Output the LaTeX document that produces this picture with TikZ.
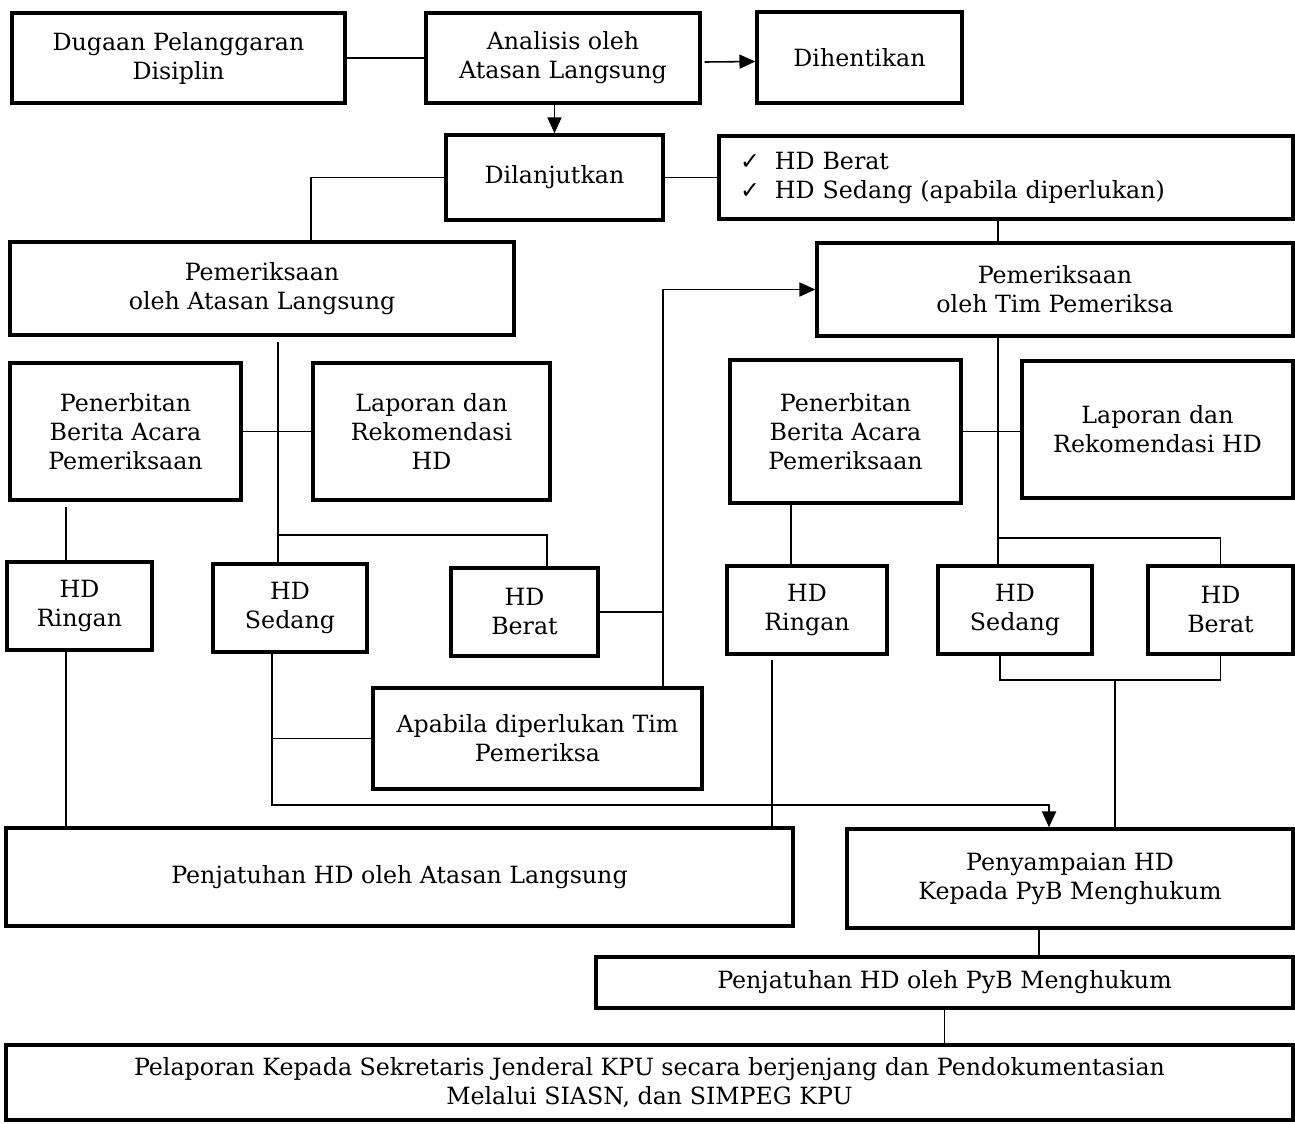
\documentclass[tikz,border=0pt]{standalone}
\usepackage{fontspec}
\setmainfont{DejaVu Serif}
\newfontfamily\cekfont{DejaVu Sans}
\usetikzlibrary{arrows.meta}

\begin{document}
\begin{tikzpicture}[x=0.02cm, y=-0.02cm,
		box/.style={draw, line width=2pt, align=center, inner sep=2pt, font=\fontsize{13.5}{16.5}\selectfont},
		garis/.style={line width=0.9pt},
		panah/.style={garis, -{Triangle[length=9pt, width=8pt]}}]
		\useasboundingbox[fill=white] (0,0) rectangle (1295,1123);

		\node[box, minimum width=6.66cm, minimum height=1.80cm] (dugaan) at (178.5,58) {Dugaan Pelanggaran\\Disiplin};
		\node[box, minimum width=5.48cm, minimum height=1.80cm] (analisis) at (563,58) {Analisis oleh\\Atasan Langsung};
		\node[box, minimum width=4.10cm, minimum height=1.82cm] (henti) at (859.5,57.5) {Dihentikan};
		\node[box, minimum width=4.34cm, minimum height=1.70cm] (lanjut) at (554.5,177.5) {Dilanjutkan};
		\node[box, align=left, text width=10.64cm, inner xsep=0.42cm, minimum height=1.66cm] (ceklis) at (1006,177.5)
			{{\cekfont ✓}\hspace{0.3cm}HD Berat\\{\cekfont ✓}\hspace{0.3cm}HD Sedang (apabila diperlukan)};

		\node[box, minimum width=10.08cm, minimum height=1.86cm] (periksaAL) at (262,288.5) {Pemeriksaan\\oleh Atasan Langsung};
		\node[box, minimum width=9.52cm, minimum height=1.86cm] (periksaTP) at (1055,289.5) {Pemeriksaan\\oleh Tim Pemeriksa};

		\node[box, minimum width=4.62cm, minimum height=2.74cm] (baL) at (125.5,431.5) {Penerbitan\\Berita Acara\\Pemeriksaan};
		\node[box, minimum width=4.74cm, minimum height=2.74cm] (lapL) at (431.5,431.5) {Laporan dan\\Rekomendasi\\HD};
		\node[box, minimum width=4.62cm, minimum height=2.86cm] (baR) at (845.5,431.5) {Penerbitan\\Berita Acara\\Pemeriksaan};
		\node[box, minimum width=5.42cm, minimum height=2.74cm] (lapR) at (1157.5,429.5) {Laporan dan\\Rekomendasi HD};

		\node[box, minimum width=2.90cm, minimum height=1.76cm] (ringanL) at (79.5,606) {HD\\Ringan};
		\node[box, minimum width=3.08cm, minimum height=1.76cm] (sedangL) at (290,608) {HD\\Sedang};
		\node[box, minimum width=2.94cm, minimum height=1.76cm] (beratL) at (524.5,612) {HD\\Berat};
		\node[box, minimum width=3.20cm, minimum height=1.76cm] (ringanR) at (807,610) {HD\\Ringan};
		\node[box, minimum width=3.08cm, minimum height=1.76cm] (sedangR) at (1015,610) {HD\\Sedang};
		\node[box, minimum width=2.90cm, minimum height=1.76cm] (beratR) at (1220.5,610) {HD\\Berat};

		\node[box, minimum width=6.58cm, minimum height=2.02cm] (apabila) at (537.5,738.5) {Apabila diperlukan Tim\\Pemeriksa};

		\node[box, minimum width=15.74cm, minimum height=1.96cm] (jatuhAL) at (399.5,877) {Penjatuhan HD oleh Atasan Langsung};
		\node[box, minimum width=8.92cm, minimum height=1.98cm] (sampai) at (1070,878.5) {Penyampaian HD\\Kepada PyB Menghukum};
		\node[box, minimum width=13.94cm, minimum height=1.02cm] (jatuhPyB) at (944.5,982.5) {Penjatuhan HD oleh PyB Menghukum};
		\node[box, minimum width=25.74cm, minimum height=1.50cm] (lapor) at (649.5,1082.5)
			{Pelaporan Kepada Sekretaris Jenderal KPU secara berjenjang dan Pendokumentasian\\Melalui SIASN, dan SIMPEG KPU};

		\coordinate (tAL) at ([xshift=0.32cm]periksaAL.south);
		\coordinate (cabL) at (278,535);
		\coordinate (naik) at ([xshift=2.51cm]apabila.north);
		\coordinate (bawah) at (272,805);
		\coordinate (tTP) at ([xshift=-1.14cm]periksaTP.south);
		\coordinate (cabR) at (998,538);
		\coordinate (gabR) at (1115,680);

		\draw[garis] (dugaan.east) -- (analisis.west);
		\draw[panah] ([shift={(0.06cm,-0.08cm)}]analisis.east) -- ([yshift=-0.08cm]henti.west);
		\draw[panah] (lanjut.north |- analisis.south) -- (lanjut.north);
		\draw[garis] (lanjut.west) -| ([xshift=0.98cm]periksaAL.north);
		\draw[garis] (lanjut.east) -- (ceklis.west);
		\draw[garis] ([xshift=-0.16cm]ceklis.south) -- ([xshift=-0.16cm]ceklis.south |- periksaTP.north);

		\draw[garis] ([yshift=-0.1cm]tAL) -- (tAL |- sedangL.north);
		\draw[garis] (baL.east) -- (lapL.west);
		\draw[garis] (cabL) -| ([xshift=0.45cm]beratL.north);
		\draw[garis] ([xshift=-0.27cm]ringanL.north) -- ([xshift=-0.27cm,yshift=-0.1cm]ringanL.north |- baL.south);
		\draw[garis] ([xshift=-0.27cm]ringanL.south) -- ([xshift=-0.27cm]ringanL.south |- jatuhAL.north);
		\draw[garis] (beratL.east) -- (beratL.east -| naik);
		\draw[panah] (naik) |- (periksaTP.west);
		\draw[garis] (apabila.west) -- (apabila.west -| bawah);
		\draw[panah] ([xshift=-0.36cm]sedangL.south) -- (bawah) -| ([xshift=-0.42cm]sampai.north);

		\draw[garis] (tTP) -- (tTP |- sedangR.north);
		\draw[garis] (baR.east) -- (baR.east -| lapR.west);
		\draw[garis] (cabR) -| (beratR.north);
		\draw[garis] ([xshift=-0.32cm]ringanR.north) -- ([xshift=-0.32cm]ringanR.north |- baR.south);
		\draw[garis] ([xshift=-0.70cm,yshift=-0.08cm]ringanR.south) -- ([xshift=-0.70cm]ringanR.south |- jatuhAL.north);
		\draw[garis] ([xshift=-0.30cm]sedangR.south) |- (gabR) -| (beratR.south);
		\draw[garis] (gabR) -- (gabR |- sampai.north);

		\draw[garis] ([xshift=-0.62cm]sampai.south) -- ([xshift=-0.62cm]sampai.south |- jatuhPyB.north);
		\draw[garis] (jatuhPyB.south) -- (jatuhPyB.south |- lapor.north);

	\end{tikzpicture}
\end{document}
